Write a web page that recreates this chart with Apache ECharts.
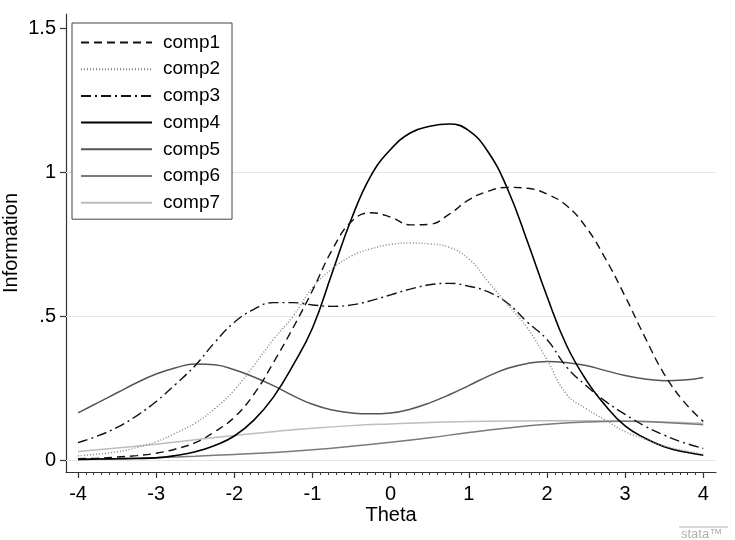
<!DOCTYPE html>
<html><head><meta charset="utf-8">
<script src="https://cdn.jsdelivr.net/npm/echarts@6/dist/echarts.min.js"></script>
<style>html,body{margin:0;padding:0;background:#fff}#c{width:735px;height:540px}</style>
</head><body><div id="c"></div>
<script>
// Theta grid (step 0.25) for comp1-comp5
const thetaFine = [-4,-3.75,-3.5,-3.25,-3,-2.75,-2.5,-2.25,-2,-1.75,-1.5,-1.25,-1,-0.75,-0.5,-0.25,0,0.25,0.5,0.75,1,1.25,1.5,1.75,2,2.25,2.5,2.75,3,3.25,3.5,3.75,4];
const comp1 = [0.006,0.008,0.012,0.017,0.025,0.04,0.062,0.1,0.15,0.23,0.34,0.46,0.59,0.73,0.83,0.86,0.845,0.818,0.82,0.855,0.905,0.935,0.948,0.945,0.925,0.885,0.81,0.70,0.57,0.43,0.30,0.205,0.135];
const comp2 = [0.016,0.022,0.03,0.045,0.065,0.095,0.13,0.18,0.245,0.33,0.42,0.50,0.60,0.665,0.71,0.735,0.75,0.755,0.752,0.74,0.70,0.62,0.54,0.46,0.35,0.23,0.18,0.14,0.10,0.075,0.05,0.035,0.022];
const comp3 = [0.062,0.085,0.115,0.155,0.205,0.265,0.33,0.41,0.48,0.525,0.548,0.548,0.54,0.535,0.54,0.555,0.575,0.595,0.61,0.615,0.605,0.585,0.545,0.48,0.42,0.325,0.26,0.205,0.16,0.12,0.088,0.062,0.042];
const comp4 = [0.004,0.005,0.006,0.007,0.009,0.017,0.03,0.052,0.085,0.14,0.22,0.33,0.46,0.65,0.84,0.99,1.08,1.137,1.16,1.168,1.145,1.07,0.94,0.76,0.57,0.40,0.28,0.19,0.12,0.078,0.048,0.03,0.018];
const comp5 = [0.165,0.2,0.235,0.27,0.3,0.322,0.335,0.332,0.315,0.29,0.26,0.225,0.195,0.175,0.165,0.162,0.165,0.178,0.2,0.228,0.26,0.293,0.32,0.337,0.344,0.34,0.33,0.312,0.295,0.283,0.277,0.279,0.288];
// Theta grid (step 0.5) for comp6-comp7
const thetaCoarse = [-4,-3.5,-3,-2.5,-2,-1.5,-1,-0.5,0,0.5,1,1.5,2,2.5,3,3.5,4];
const comp6 = [0.003,0.006,0.01,0.015,0.021,0.028,0.037,0.049,0.063,0.079,0.097,0.113,0.126,0.134,0.136,0.132,0.124];
const comp7 = [0.031,0.043,0.056,0.072,0.087,0.1,0.112,0.121,0.127,0.132,0.135,0.137,0.138,0.138,0.137,0.134,0.129];

const xTicks = [-4,-3,-2,-1,0,1,2,3,4];
const yTicks = [0,0.5,1,1.5];
const yTickLabels = ['0','.5','1','1.5'];
const yGrid = [0,0.5,1];
const seriesNames = ['comp1','comp2','comp3','comp4','comp5','comp6','comp7'];

const xMinor = [];
for (let i = -40; i <= 40; i++) { if (i % 10 !== 0) xMinor.push(i / 10); }

function pairs(xs, ys){ return xs.map((x,i)=>[x, ys[i]]); }

const styles = [
  {color:'#111', width:1.4, type:[8,5]},
  {color:'#808080', width:1.4, type:[1,2]},
  {color:'#111', width:1.4, type:[10,4,2,4]},
  {color:'#000', width:1.6, type:'solid'},
  {color:'#555', width:1.5, type:'solid'},
  {color:'#7a7a7a', width:1.5, type:'solid'},
  {color:'#bdbdbd', width:1.5, type:'solid'}
];
const datas = [pairs(thetaFine,comp1),pairs(thetaFine,comp2),pairs(thetaFine,comp3),pairs(thetaFine,comp4),pairs(thetaFine,comp5),pairs(thetaCoarse,comp6),pairs(thetaCoarse,comp7)];

const FONT = 'Liberation Sans, Arial, sans-serif';
const series = seriesNames.map((n,i)=>({
  name:n, type:'line', data:datas[i], smooth:0.45, symbol:'none', showSymbol:false,
  xAxisIndex:0, yAxisIndex:0, z: 10 - i,
  lineStyle:{color:styles[i].color, width:styles[i].width, type:styles[i].type},
  itemStyle:{color:styles[i].color},
  emphasis:{disabled:true}
}));
series.push({
  type:'line', data:[], xAxisIndex:0, yAxisIndex:0, silent:true, z:1,
  markLine:{silent:true, symbol:'none', label:{show:false},
    lineStyle:{color:'#e6e6e6', width:1.2, type:'solid'},
    data: yGrid.map(v=>({yAxis:v}))}
});

const chart = echarts.init(document.getElementById('c'), null, {renderer:'canvas'});
chart.setOption({
  animation:false,
  backgroundColor:'#fff',
  textStyle:{fontFamily:FONT},
  grid:{left:66, right:19, top:14, bottom:68, containLabel:false, outerBoundsMode:'none'},
  legend:{
    data:seriesNames, orient:'vertical', left:72, top:23, z:100,
    itemWidth:71, itemHeight:14, itemGap:7.7,
    padding:[10,12,7,8],
    borderColor:'#444', borderWidth:1, backgroundColor:'#fff',
    itemStyle:{opacity:0},
    textStyle:{fontSize:19, lineHeight:19, color:'#000', fontFamily:FONT, padding:[0,0,0,6]},
    selectedMode:false
  },
  xAxis:[{
    type:'value', min:-4.154, max:4.163,
    axisLine:{show:true, onZero:false, lineStyle:{color:'#333', width:1.2}},
    axisTick:{show:true, length:6, customValues:xTicks, lineStyle:{color:'#333', width:1.2}},
    axisLabel:{customValues:xTicks, fontSize:20, color:'#000', margin:12, formatter:v=>String(v)},
    splitLine:{show:false},
    name:'Theta', nameLocation:'middle', nameGap:33, nameMoveOverlap:false,
    nameTextStyle:{fontSize:20, color:'#000'}
  },{
    type:'value', min:-4.154, max:4.163, position:'bottom',
    axisLine:{show:false, onZero:false},
    axisTick:{show:true, length:3, customValues:xMinor, lineStyle:{color:'#333', width:1}},
    axisLabel:{show:false},
    splitLine:{show:false}
  }],
  yAxis:{
    type:'value', min:-0.04, max:1.55,
    axisLine:{show:true, onZero:false, lineStyle:{color:'#333', width:1.2}},
    axisTick:{show:true, length:6, customValues:yTicks, lineStyle:{color:'#333', width:1.2}},
    axisLabel:{customValues:yTicks, fontSize:20, color:'#000', margin:10,
      formatter:v=> yTickLabels[yTicks.indexOf(v)] ?? String(v)},
    splitLine:{show:false},
    name:'Information', nameLocation:'middle', nameGap:45, nameMoveOverlap:false,
    nameTextStyle:{fontSize:20, color:'#000'}
  },
  graphic:[
    {type:'line', shape:{x1:679, y1:527, x2:728, y2:527}, style:{stroke:'#b5b5b5', lineWidth:1}},
    {type:'text', left:681, top:528, style:{text:'stata™', fill:'#b0b0b0', font:'13px ' + FONT}}
  ],
  series:series
});
</script>
</body></html>
